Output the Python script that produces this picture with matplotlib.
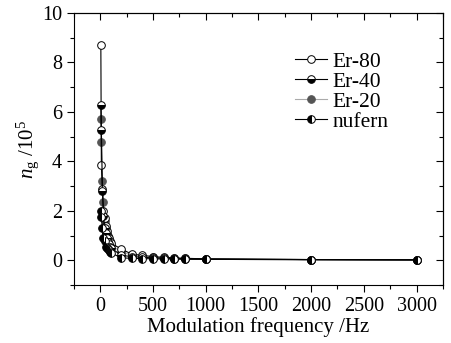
import numpy as np
import matplotlib
matplotlib.use('Agg')
import matplotlib.pyplot as plt
from matplotlib.ticker import MultipleLocator

# ── data ─────────────────────────────────────────────────────────────────────
freq = [5, 10, 20, 30, 40, 50, 60, 70, 80, 90, 100,
        200, 300, 400, 500, 600, 700, 800, 1000, 2000, 3000]

er80 = [8.7, 3.85, 2.9, 2.0, 1.7, 1.4, 1.2, 1.0, 0.9, 0.8, 0.7,
        0.45, 0.25, 0.2, 0.15, 0.12, 0.1, 0.08, 0.06, 0.03, 0.02]
er40 = [6.3, 5.25, 2.8, 1.8, 1.3, 1.1, 0.9, 0.75, 0.65, 0.55, 0.5,
        0.2, 0.15, 0.12, 0.1, 0.08, 0.07, 0.06, 0.05, 0.03, 0.02]
er20 = [5.7, 4.8, 3.2, 2.35, 1.6, 1.3, 1.05, 0.9, 0.8, 0.7, 0.6,
        0.35, 0.2, 0.15, 0.12, 0.1, 0.09, 0.08, 0.06, 0.03, 0.02]
nufern = [2.0, 1.75, 1.3, 0.9, 0.8, 0.55, 0.5, 0.45, 0.4, 0.35, 0.3,
          0.1, 0.08, 0.07, 0.06, 0.05, 0.05, 0.04, 0.04, 0.02, 0.01]

plt.rcParams['font.family'] = ['Liberation Serif', 'DejaVu Serif']
plt.rcParams['mathtext.fontset'] = 'custom'
plt.rcParams['mathtext.rm'] = 'Liberation Serif'
plt.rcParams['mathtext.it'] = 'Liberation Serif:italic'

fig = plt.figure(figsize=(4.51, 3.43), dpi=100)
ax = fig.add_axes([0.164, 0.169, 0.818, 0.793])

ms = 5.5
ax.plot(freq, er80, '-o', color='black', lw=0.8, ms=ms,
        mfc='white', mec='black', mew=0.7, label='Er-80', zorder=3)
ax.plot(freq, er40, '-o', color='black', lw=0.8, ms=ms, fillstyle='bottom',
        mfc='black', mfcalt='white', mec='black', mew=0.7, label='Er-40', zorder=3)
ax.plot(freq, er20, '-o', color='#aaaaaa', lw=0.8, ms=ms,
        mfc='#555555', mec='#555555', mew=0.7, label='Er-20', zorder=2)
ax.plot(freq, nufern, '-o', color='black', lw=0.8, ms=ms, fillstyle='left',
        mfc='black', mfcalt='white', mec='black', mew=0.7, label='nufern', zorder=3)

ax.set_xlim(-250, 3250)
ax.set_ylim(-1, 10)
ax.xaxis.set_major_locator(MultipleLocator(500))
ax.xaxis.set_minor_locator(MultipleLocator(250))
ax.yaxis.set_major_locator(MultipleLocator(2))
ax.yaxis.set_minor_locator(MultipleLocator(1))

# left/bottom ticks outward, top/right inward
ax.tick_params(which='both', direction='out', labelsize=14.5, width=0.8)
ax.tick_params(which='major', length=5)
ax.tick_params(which='minor', length=3)

sec_x = ax.secondary_xaxis('top')
sec_x.xaxis.set_major_locator(MultipleLocator(500))
sec_x.xaxis.set_minor_locator(MultipleLocator(250))
sec_x.tick_params(which='both', direction='in', labeltop=False, width=0.8)
sec_x.tick_params(which='major', length=5)
sec_x.tick_params(which='minor', length=3)

sec_y = ax.secondary_yaxis('right')
sec_y.yaxis.set_major_locator(MultipleLocator(2))
sec_y.yaxis.set_minor_locator(MultipleLocator(1))
sec_y.tick_params(which='both', direction='in', labelright=False, width=0.8)
sec_y.tick_params(which='major', length=5)
sec_y.tick_params(which='minor', length=3)

ax.set_xlabel('Modulation frequency /Hz', fontsize=15, labelpad=1)
ax.set_ylabel(r'$n_{\rm g}$ /10$^5$', fontsize=15, labelpad=1)

ax.legend(loc='upper right', bbox_to_anchor=(0.905, 0.93), frameon=False,
          fontsize=15.5, handlelength=1.5, handletextpad=0.25, labelspacing=0.0)

plt.savefig('out.png', dpi=100)
